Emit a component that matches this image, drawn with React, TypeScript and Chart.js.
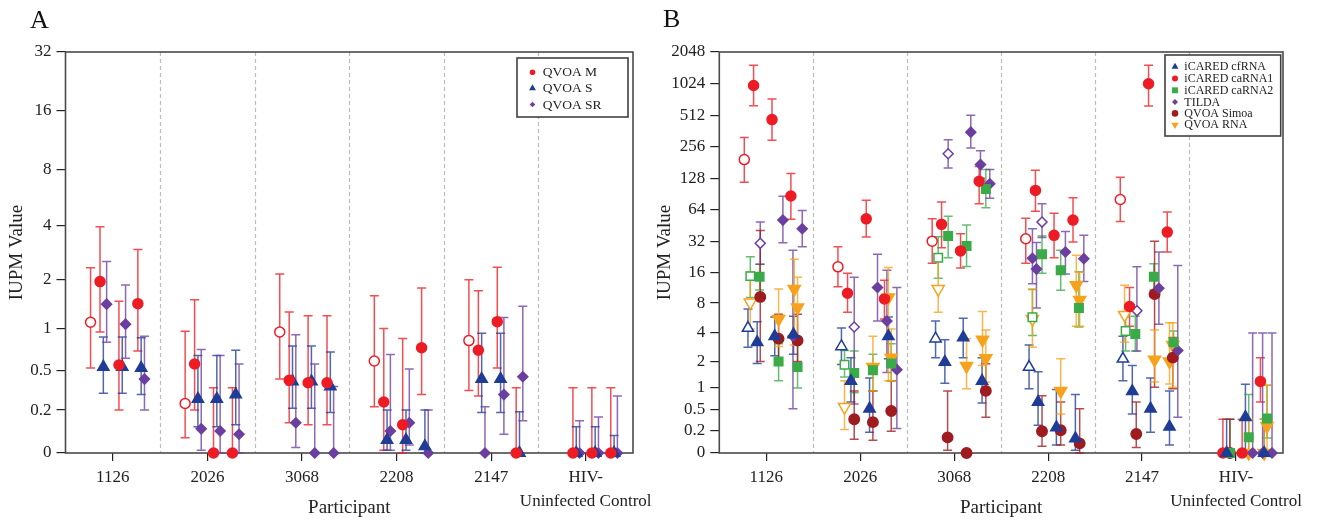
import React, { useEffect, useRef } from 'react';
import { Chart, registerables } from 'chart.js';

Chart.register(...registerables);

const FONT = "'Liberation Serif', 'Times New Roman', serif";
Chart.defaults.font.family = FONT;

// ---------- categories & ticks ----------
const participants: (string | string[])[] = ['1126', '2026', '3068', '2208', '2147', ['HIV-', 'Uninfected Control']];
const yTicksA = [0, 0.2, 0.5, 1, 2, 4, 8, 16, 32];
const yTicksB = [0, 0.2, 0.5, 1, 2, 4, 8, 16, 32, 64, 128, 256, 512, 1024, 2048];

// axis transform: log2(value + 0.31)
const OFFSET = 0.31;
const T = (v: number) => Math.log2(v + OFFSET);

// ---------- Panel A data: [participant, visit offset, IUPM, low, high, open] ----------
const qvoaM = [
  [0, -0.235, 1.10, 0.52, 2.34, 1], [0, -0.135, 1.95, 0.95, 3.96, 0], [0, 0.065, 0.55, 0.20, 1.49, 0], [0, 0.265, 1.44, 0.70, 2.97, 0],
  [1, -0.235, 0.24, 0.06, 0.96, 1], [1, -0.135, 0.56, 0.20, 1.52, 0], [1, 0.065, 0, 0, 0.35, 0], [1, 0.265, 0, 0, 0.35, 0],
  [2, -0.235, 0.95, 0.42, 2.16, 1], [2, -0.135, 0.41, 0.13, 1.28, 0], [2, 0.065, 0.39, 0.12, 1.21, 0], [2, 0.265, 0.39, 0.12, 1.21, 0],
  [3, -0.235, 0.59, 0.22, 1.61, 1], [3, -0.135, 0.25, 0.01, 1.0, 0], [3, 0.065, 0.12, 0, 0.86, 0], [3, 0.265, 0.74, 0.30, 1.79, 0],
  [4, -0.235, 0.83, 0.33, 2.0, 1], [4, -0.135, 0.71, 0.29, 1.72, 0], [4, 0.065, 1.11, 0.52, 2.36, 0], [4, 0.265, 0, 0, 0.35, 0],
  [5, -0.135, 0, 0, 0.35, 0], [5, 0.065, 0, 0, 0.35, 0], [5, 0.265, 0, 0, 0.35, 0],
];
const qvoaS = [
  [0, -0.1, 0.53, 0.31, 0.88, 0], [0, 0.1, 0.53, 0.31, 0.88, 0], [0, 0.3, 0.52, 0.30, 0.87, 0],
  [1, -0.1, 0.27, 0.11, 0.65, 0], [1, 0.1, 0.27, 0.11, 0.65, 0], [1, 0.3, 0.30, 0.12, 0.71, 0],
  [2, -0.1, 0.40, 0.21, 0.76, 0], [2, 0.1, 0.40, 0.21, 0.76, 0], [2, 0.3, 0.36, 0.185, 0.69, 0],
  [3, -0.1, 0.05, 0.01, 0.2, 0], [3, 0.1, 0.05, 0.01, 0.2, 0], [3, 0.3, 0.025, 0, 0.2, 0],
  [4, -0.1, 0.42, 0.185, 0.93, 0], [4, 0.1, 0.42, 0.185, 0.93, 0], [4, 0.3, 0, 0, 0.19, 0],
  [5, -0.1, 0, 0, 0.11, 0], [5, 0.1, 0, 0, 0.11, 0], [5, 0.3, 0, 0, 0.07, 0],
];
const qvoaSR = [
  [0, -0.065, 1.43, 0.81, 2.54, 0], [0, 0.135, 1.07, 0.62, 1.86, 0], [0, 0.335, 0.42, 0.2, 0.89, 0],
  [1, -0.065, 0.10, 0.01, 0.72, 0], [1, 0.135, 0.09, 0, 0.65, 0], [1, 0.335, 0.075, 0, 0.56, 0],
  [2, -0.065, 0.13, 0.02, 0.91, 0], [2, 0.135, 0, 0, 0.56, 0], [2, 0.335, 0, 0, 0.36, 0],
  [3, -0.065, 0.09, 0.01, 0.66, 0], [3, 0.135, 0.13, 0.03, 0.51, 0], [3, 0.335, 0, 0, 0.2, 0],
  [4, -0.065, 0, 0, 0.22, 0], [4, 0.135, 0.30, 0.075, 1.18, 0], [4, 0.335, 0.44, 0.14, 1.39, 0],
  [5, -0.065, 0, 0, 0.14, 0], [5, 0.135, 0, 0, 0.16, 0], [5, 0.335, 0, 0, 0.29, 0],
];

// ---------- Panel B data ----------
const cfRNA = [
  [0, -0.195, 4.5, 2.85, 7.0, 1], [0, -0.097, 3.2, 1.9, 5.2, 0], [0, 0.09, 3.7, 2.3, 5.8, 0], [0, 0.29, 3.85, 2.4, 5.9, 0],
  [1, -0.2, 2.9, 1.85, 4.5, 1], [1, -0.099, 1.19, 0.64, 2.2, 0], [1, 0.099, 0.51, 0.18, 1.3, 0], [1, 0.3, 3.7, 2.14, 5.8, 0],
  [2, -0.198, 3.5, 2.2, 5.3, 1], [2, -0.099, 1.97, 1.12, 3.4, 0], [2, 0.096, 3.6, 2.2, 5.64, 0], [2, 0.297, 1.19, 0.62, 2.2, 0],
  [3, -0.203, 1.73, 0.96, 3.0, 1], [3, -0.107, 0.64, 0.26, 1.53, 0], [3, 0.088, 0.233, 0.06, 0.94, 0], [3, 0.29, 0.117, 0.02, 0.81, 0],
  [4, -0.204, 2.14, 1.2, 3.7, 1], [4, -0.104, 0.89, 0.42, 1.8, 0], [4, 0.09, 0.51, 0.18, 1.3, 0], [4, 0.292, 0.24, 0.06, 0.9, 0],
  [5, -0.1, 0, 0, 0.34, 0], [5, 0.1, 0.37, 0, 1.09, 0], [5, 0.3, 0, 0, 0.34, 0],
];
const caRNA1 = [
  [0, -0.234, 193, 117.5, 314, 1], [0, -0.135, 983, 631, 1533, 0], [0, 0.061, 465, 296, 730, 0], [0, 0.262, 86.6, 52, 142, 0],
  [1, -0.237, 18.1, 11.6, 28.3, 1], [1, -0.135, 10.0, 6.5, 15.7, 0], [1, 0.064, 52.4, 35.1, 79, 0], [1, 0.258, 8.8, 5.55, 13.4, 0],
  [2, -0.234, 32, 19.6, 52.4, 1], [2, -0.134, 46.4, 27.7, 76.1, 0], [2, 0.068, 25.8, 17.6, 37.8, 0], [2, 0.266, 120, 73, 166, 0],
  [3, -0.238, 33.8, 19.6, 53, 1], [3, -0.135, 98, 62, 152.8, 0], [3, 0.063, 36.4, 22.2, 59.3, 0], [3, 0.265, 51, 31.4, 83.3, 0],
  [4, -0.232, 80.3, 49.4, 131, 1], [4, -0.133, 7.4, 4.7, 11.4, 0], [4, 0.069, 1020, 625, 1533, 0], [4, 0.268, 39.1, 25.2, 61, 0],
  [5, -0.14, 0, 0, 0.34, 0], [5, 0.065, 0, 0, 0.34, 0], [5, 0.26, 1.18, 0.64, 2.2, 0],
];
const caRNA2 = [
  [0, -0.17, 14.7, 9.1, 22.7, 1], [0, -0.071, 14.5, 10.75, 19.2, 0], [0, 0.131, 2.0, 1.2, 3.1, 0], [0, 0.333, 1.73, 0.98, 3.2, 0],
  [1, -0.167, 1.84, 1.33, 2.63, 1], [1, -0.064, 1.48, 0.85, 2.6, 0], [1, 0.135, 1.59, 0.9, 2.4, 0], [1, 0.33, 1.9, 1.2, 3.1, 0],
  [2, -0.17, 22.2, 14, 35.3, 1], [2, -0.064, 35.9, 22.2, 55.6, 0], [2, 0.132, 28.8, 18.2, 45.7, 0], [2, 0.337, 101.3, 66.8, 155, 0],
  [3, -0.167, 5.77, 3.77, 10.9, 1], [3, -0.065, 23.9, 15.7, 35.9, 0], [3, 0.134, 16.8, 10.7, 26.2, 0], [3, 0.328, 7.15, 4.6, 16.2, 0],
  [4, -0.175, 4.2, 2.6, 5.8, 1], [4, -0.072, 3.9, 2.6, 5.9, 0], [4, 0.125, 14.5, 10.7, 19.4, 0], [4, 0.335, 3.2, 2.4, 4.2, 0],
  [5, -0.065, 0, 0, 0.34, 0], [5, 0.135, 0.127, 0, 0.81, 0], [5, 0.33, 0.35, 0.12, 1.06, 0],
];
const tilda = [
  [0, -0.064, 30.5, 19.2, 48.8, 1], [0, 0.177, 51, 30.9, 86.3, 0], [0, 0.284, 3.7, 0.51, 26.2, 0], [0, 0.383, 42.1, 28.3, 63, 0],
  [1, -0.064, 4.6, 0.6, 14.3, 1], [1, 0.184, 11.4, 5.3, 24, 0], [1, 0.284, 5.3, 1.5, 16.8, 0], [1, 0.39, 1.62, 0.22, 11.4, 0],
  [2, -0.064, 219.5, 160.6, 298, 1], [2, 0.177, 352.5, 248.6, 512, 0], [2, 0.28, 173, 128, 234.7, 0], [2, 0.379, 113.3, 82.4, 155, 0],
  [3, -0.065, 48.8, 34.8, 73, 1], [3, -0.167, 21.9, 12.4, 42, 0], [3, -0.124, 17.2, 7.15, 31, 0], [3, 0.184, 25.2, 15.4, 39.6, 0], [3, 0.38, 21.7, 13.0, 36.4, 0],
  [4, -0.055, 6.7, 2.6, 18.1, 1], [4, 0.179, 11.2, 4.9, 25.2, 0], [4, 0.38, 2.63, 0.37, 18.6, 0],
  [5, 0.177, 0, 0, 4, 0], [5, 0.283, 0, 0, 4, 0], [5, 0.383, 0, 0, 4, 0],
];
const qvoaSimoa = [
  [0, -0.064, 9.2, 2.0, 40.6, 0], [0, 0.131, 3.5, 2.0, 6.2, 0], [0, 0.333, 3.35, 2.0, 6.2, 0],
  [1, -0.064, 0.34, 0.11, 0.9, 0], [1, 0.135, 0.30, 0.1, 0.9, 0], [1, 0.33, 0.47, 0.19, 1.2, 0],
  [2, -0.07, 0.127, 0.02, 0.9, 0], [2, 0.132, 0, 0, 0, 0], [2, 0.337, 0.9, 0.37, 1.89, 0],
  [3, -0.065, 0.19, 0.05, 0.78, 0], [3, 0.134, 0.2, 0.06, 0.64, 0], [3, 0.336, 0.073, 0, 0.51, 0],
  [4, -0.062, 0.16, 0.04, 0.64, 0], [4, 0.133, 9.8, 1.0, 32, 0], [4, 0.327, 2.2, 0.96, 3.6, 0],
  [5, -0.065, 0, 0, 0.34, 0],
];
const qvoaRNA = [
  [0, -0.17, 8.1, 4.4, 16.2, 1], [0, 0.131, 5.55, 2.9, 11.0, 0], [0, 0.298, 11.0, 3.0, 21.4, 0], [0, 0.333, 7.25, 3.5, 14.3, 0],
  [1, -0.167, 0.54, 0.21, 1.2, 1], [1, 0.135, 1.73, 0.9, 3.7, 0], [1, 0.3, 9.1, 1.2, 17.8, 0], [1, 0.33, 2.2, 1.2, 4.4, 0],
  [2, -0.17, 11.0, 6.5, 22.2, 1], [2, 0.132, 1.78, 0.96, 3.5, 0], [2, 0.302, 3.4, 1.8, 6.6, 0], [2, 0.337, 2.17, 1.16, 4.3, 0],
  [3, -0.167, 5.55, 2.85, 11.0, 1], [3, 0.134, 0.9, 0.42, 2.14, 0], [3, 0.3, 12.0, 4.7, 23.4, 0], [3, 0.336, 8.57, 4.7, 16, 0],
  [4, -0.186, 6.1, 3.2, 12.0, 1], [4, 0.133, 2.09, 1.16, 4.3, 0], [4, 0.292, 2.0, 1.1, 5.1, 0], [4, 0.327, 3.0, 1.0, 5.1, 0],
  [5, 0.135, 0, 0, 0.34, 0], [5, 0.3, 0, 0, 0.34, 0], [5, 0.33, 0.25, 0, 1.06, 0],
];

// ---------- styles ----------
const RED = '#ED1C24';
const BLUE = '#1F3C96';
const PURPLE = '#6B3FA0';
const GREEN = '#3BAA48';
const DARKRED = '#9E1B20';
const ORANGE = '#F7A21B';

type Series = { label: string; color: string; style: string; radius: number; rotation?: number; legendR: number; rows: number[][] };

interface Panel {
  letter: string;
  left: number;
  width: number;
  padRight: number;
  yWidth: number;
  yTicks: number[];
  titlePad: number;
  letterPos: [number, number];
  legendBox: [number, number, number, number];
  legendRows: number[];
  legendMarkerX: number;
  legendTextX: number;
  legendFont: number;
  series: Series[];
}

const panelA: Panel = {
  letter: 'A', left: 0, width: 680, padRight: 47, yWidth: 65.5, yTicks: yTicksA, titlePad: 5.6,
  letterPos: [30, 28],
  legendBox: [517, 58, 628, 117], legendRows: [72.3, 88.3, 104.5], legendMarkerX: 532.5, legendTextX: 542.7, legendFont: 13.5,
  series: [
    { label: 'QVOA M', color: RED, style: 'circle', radius: 5, legendR: 2.8, rows: qvoaM },
    { label: 'QVOA S', color: BLUE, style: 'triangle', radius: 6.5, legendR: 4, rows: qvoaS },
    { label: 'QVOA SR', color: PURPLE, style: 'rectRot', radius: 5, legendR: 2.8, rows: qvoaSR },
  ],
};

const panelB: Panel = {
  letter: 'B', left: 650, width: 674, padRight: 41, yWidth: 69.3, yTicks: yTicksB, titlePad: 4.1,
  letterPos: [13, 27],
  legendBox: [515, 55, 630.7, 136], legendRows: [66.7, 78.6, 90.3, 101.9, 113.4, 124.8], legendMarkerX: 525, legendTextX: 534.3, legendFont: 12,
  series: [
    { label: 'iCARED cfRNA', color: BLUE, style: 'triangle', radius: 6.5, legendR: 4, rows: cfRNA },
    { label: 'iCARED caRNA1', color: RED, style: 'circle', radius: 5, legendR: 3, rows: caRNA1 },
    { label: 'iCARED caRNA2', color: GREEN, style: 'rect', radius: 6, legendR: 4.2, rows: caRNA2 },
    { label: 'TILDA', color: PURPLE, style: 'rectRot', radius: 5, legendR: 3, rows: tilda },
    { label: 'QVOA Simoa', color: DARKRED, style: 'circle', radius: 5.2, legendR: 3.3, rows: qvoaSimoa },
    { label: 'QVOA RNA', color: ORANGE, style: 'triangle', rotation: 180, radius: 7, legendR: 4.3, rows: qvoaRNA },
  ],
};

function withAlpha(hex: string, a: number) {
  const n = parseInt(hex.slice(1), 16);
  return `rgba(${(n >> 16) & 255},${(n >> 8) & 255},${n & 255},${a})`;
}

function drawMarker(ctx: CanvasRenderingContext2D, style: string, x: number, y: number, r: number, rot: number) {
  ctx.beginPath();
  if (style === 'circle') {
    ctx.arc(x, y, r, 0, Math.PI * 2);
  } else if (style === 'triangle') {
    const s = rot ? -1 : 1;
    ctx.moveTo(x, y - s * r);
    ctx.lineTo(x + r * 0.866, y + s * r * 0.5);
    ctx.lineTo(x - r * 0.866, y + s * r * 0.5);
    ctx.closePath();
  } else if (style === 'rect') {
    const h = r * Math.SQRT1_2;
    ctx.rect(x - h, y - h, 2 * h, 2 * h);
  } else {
    ctx.moveTo(x, y - r);
    ctx.lineTo(x + r, y);
    ctx.lineTo(x, y + r);
    ctx.lineTo(x - r, y);
    ctx.closePath();
  }
  ctx.fill();
}

function buildChart(canvas: HTMLCanvasElement, p: Panel) {
  const decor = {
    id: 'decor' + p.letter,
    beforeDatasetsDraw(chart: any) {
      const { ctx, chartArea: a, scales } = chart;
      const xs = scales.x;
      const ys = scales.y;
      ctx.save();
      // dashed separators between participants
      ctx.strokeStyle = '#bcbcbc';
      ctx.lineWidth = 1.2;
      ctx.setLineDash([4, 3]);
      for (let i = 0; i < participants.length - 1; i++) {
        const px = Math.round(xs.getPixelForValue(i + 0.5)) + 0.5;
        ctx.beginPath();
        ctx.moveTo(px, a.top);
        ctx.lineTo(px, a.bottom);
        ctx.stroke();
      }
      ctx.setLineDash([]);
      // frame
      ctx.strokeStyle = '#4a4a4a';
      ctx.lineWidth = 1.6;
      ctx.strokeRect(a.left, a.top, a.right - a.left, a.bottom - a.top);
      // error bars
      const cap = 4.5;
      p.series.forEach((s) => {
        ctx.strokeStyle = withAlpha(s.color, 0.78);
        ctx.lineWidth = 1.5;
        s.rows.forEach(([g, t, v, lo, hi]) => {
          if (hi <= lo) return;
          const px = xs.getPixelForValue(g + t);
          const y1 = ys.getPixelForValue(T(lo));
          const y2 = ys.getPixelForValue(T(hi));
          ctx.beginPath();
          ctx.moveTo(px, y1);
          ctx.lineTo(px, y2);
          ctx.moveTo(px - cap, y1);
          ctx.lineTo(px + cap, y1);
          ctx.moveTo(px - cap, y2);
          ctx.lineTo(px + cap, y2);
          ctx.stroke();
        });
      });
      ctx.restore();
    },
    afterDatasetsDraw(chart: any) {
      const { ctx } = chart;
      ctx.save();
      const [x1, y1, x2, y2] = p.legendBox;
      ctx.fillStyle = '#ffffff';
      ctx.fillRect(x1, y1, x2 - x1, y2 - y1);
      ctx.strokeStyle = '#404040';
      ctx.lineWidth = 1.6;
      ctx.strokeRect(x1, y1, x2 - x1, y2 - y1);
      ctx.font = `${p.legendFont}px ${FONT}`;
      ctx.textBaseline = 'middle';
      ctx.textAlign = 'left';
      p.series.forEach((s, i) => {
        const y = p.legendRows[i];
        ctx.fillStyle = s.color;
        drawMarker(ctx, s.style, p.legendMarkerX, y, s.legendR, s.rotation || 0);
        ctx.fillStyle = '#222';
        ctx.fillText(s.label, p.legendTextX, y + 0.5);
      });
      // panel letter
      ctx.font = `26px ${FONT}`;
      ctx.textBaseline = 'alphabetic';
      ctx.fillStyle = '#111';
      ctx.fillText(p.letter, p.letterPos[0], p.letterPos[1]);
      ctx.restore();
    },
  };

  const datasets = p.series.map((s) => ({
    label: s.label,
    data: s.rows.map(([g, t, v, lo, hi, open]) => ({ x: g + t, y: T(v), lo, hi, open: !!open })),
    pointStyle: s.style,
    pointRadius: s.radius,
    pointHoverRadius: s.radius,
    pointRotation: s.rotation || 0,
    pointBorderWidth: 1.5,
    borderColor: s.color,
    pointBorderColor: s.color,
    backgroundColor: s.color,
    pointBackgroundColor: (c: any) => (c.raw && c.raw.open ? '#ffffff' : s.color),
    showLine: false,
    clip: false as any,
  }));

  const lastTick = p.yTicks[p.yTicks.length - 1];

  return new Chart(canvas, {
    type: 'scatter',
    data: { datasets: datasets as any },
    plugins: [decor],
    options: {
      responsive: false,
      animation: false,
      devicePixelRatio: 1,
      events: [],
      layout: { padding: { left: 0, right: p.padRight, top: 52, bottom: 0 } },
      plugins: { legend: { display: false }, tooltip: { enabled: false } },
      scales: {
        x: {
          type: 'linear',
          min: -0.5,
          max: 5.5,
          afterBuildTicks: (sc: any) => {
            sc.ticks = participants.map((_, i) => ({ value: i }));
          },
          afterFit: (sc: any) => {
            sc.height = 68;
          },
          ticks: {
            autoSkip: false,
            maxRotation: 0,
            minRotation: 0,
            padding: 5,
            color: '#222',
            font: { size: 17, family: FONT, lineHeight: 1.4 },
            callback: (_v: any, i: number) => participants[i] as any,
          },
          grid: { drawOnChartArea: false, drawTicks: true, tickLength: 8, color: '#222', lineWidth: 1.2 },
          border: { display: false },
          title: {
            display: true,
            text: 'Participant',
            color: '#222',
            font: { size: 19, family: FONT },
            padding: { top: 0, bottom: 1.6 },
          },
        },
        y: {
          type: 'linear',
          min: T(0),
          max: T(lastTick),
          afterBuildTicks: (sc: any) => {
            sc.ticks = p.yTicks.map((v) => ({ value: T(v) }));
          },
          afterFit: (sc: any) => {
            sc.width = p.yWidth;
          },
          ticks: {
            autoSkip: false,
            padding: 5,
            color: '#222',
            font: { size: 17, family: FONT },
            callback: (_v: any, i: number) => String(p.yTicks[i]),
          },
          grid: { drawOnChartArea: false, drawTicks: true, tickLength: 9, color: '#222', lineWidth: 1.2 },
          border: { display: false },
          title: {
            display: true,
            text: 'IUPM Value',
            color: '#222',
            font: { size: 19, family: FONT },
            padding: { top: p.titlePad, bottom: 0 },
          },
        },
      },
    } as any,
  });
}

export default function App() {
  const refA = useRef<HTMLCanvasElement>(null);
  const refB = useRef<HTMLCanvasElement>(null);

  useEffect(() => {
    const cA = refA.current ? buildChart(refA.current, panelA) : null;
    const cB = refB.current ? buildChart(refB.current, panelB) : null;
    return () => {
      if (cA) cA.destroy();
      if (cB) cB.destroy();
    };
  }, []);

  return (
    <div style={{ position: 'fixed', left: 0, top: 0, width: 1324, height: 521, background: '#ffffff', overflow: 'hidden' }}>
      <canvas
        ref={refA}
        width={panelA.width}
        height={521}
        style={{ position: 'absolute', left: panelA.left, top: 0, width: panelA.width, height: 521 }}
      />
      <canvas
        ref={refB}
        width={panelB.width}
        height={521}
        style={{ position: 'absolute', left: panelB.left, top: 0, width: panelB.width, height: 521 }}
      />
    </div>
  );
}
